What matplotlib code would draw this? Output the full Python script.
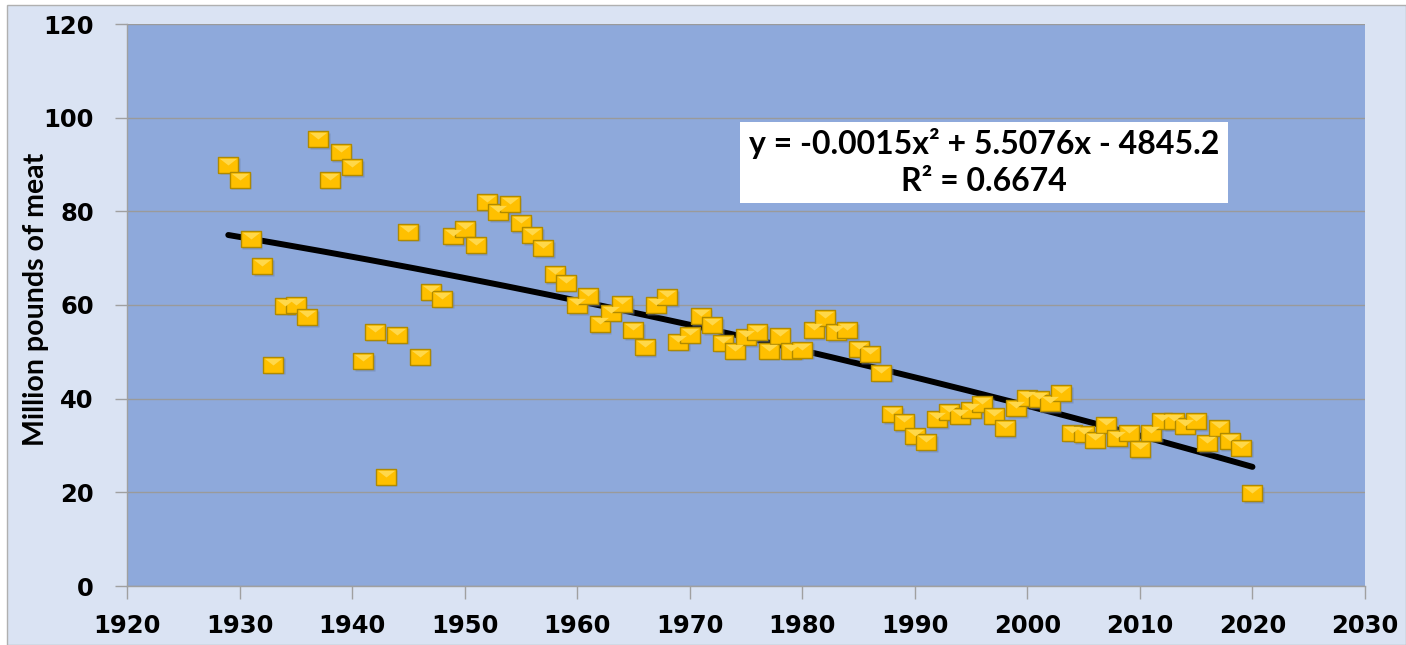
import numpy as np
import matplotlib
matplotlib.use("Agg")
import matplotlib.pyplot as plt
from matplotlib.patches import Rectangle

years = list(range(1929, 2021))
meat = [90.0, 86.7, 74.0, 68.3, 47.2, 59.8, 60.0, 57.4, 95.4, 86.7,
        92.6, 89.4, 48.0, 54.3, 23.3, 53.7, 75.6, 49.0, 62.8, 61.3,
        74.7, 76.2, 72.8, 82.0, 79.8, 81.5, 77.5, 74.9, 72.1, 66.6,
        64.7, 60.0, 61.9, 55.9, 58.3, 60.2, 54.6, 51.0, 60.0, 61.7,
        52.1, 53.6, 57.6, 55.7, 51.9, 50.2, 53.1, 54.2, 50.2, 53.4,
        50.2, 50.4, 54.6, 57.2, 54.2, 54.6, 50.6, 49.5, 45.5, 36.7,
        35.0, 32.0, 30.7, 35.6, 37.1, 36.3, 37.6, 38.8, 36.3, 33.7,
        38.0, 40.1, 39.9, 39.0, 41.2, 32.7, 32.4, 31.2, 34.4, 31.6,
        32.7, 29.2, 32.7, 35.2, 35.2, 34.2, 35.2, 30.5, 33.7, 30.9,
        29.5, 19.8]
x_ticks = [1920, 1930, 1940, 1950, 1960, 1970, 1980, 1990, 2000, 2010, 2020, 2030]
y_ticks = [0, 20, 40, 60, 80, 100, 120]
y_label = "Million pounds of meat"
eq_text = "y = -0.0015x\u00b2 + 5.5076x - 4845.2\nR\u00b2 = 0.6674"

W, H = 1406, 645
fig = plt.figure(figsize=(W / 100, H / 100), dpi=100, facecolor="white")
bg = Rectangle((7 / W, 0), 1 - 7 / W, 1 - 5 / H, transform=fig.transFigure,
               facecolor="#DAE3F3", edgecolor="#B0B0B0", linewidth=1, zorder=-5)
fig.add_artist(bg)

ax = fig.add_axes([127 / W, 1 - 586 / H, (1365 - 127) / W, (586 - 24) / H])
ax.set_zorder(1)
ax.set_facecolor("#8EA9DB")
ax.set_xlim(1920, 2030)
ax.set_ylim(0, 120)
ax.set_xticks(x_ticks)
ax.set_yticks(y_ticks)
ax.grid(axis="y", color="#9A9A9A", linewidth=1.0)
ax.set_axisbelow(True)
for s in ["top", "right"]:
    ax.spines[s].set_visible(False)
for s in ["left", "bottom"]:
    ax.spines[s].set_color("#A0A0A0")
    ax.spines[s].set_linewidth(1.0)
ax.tick_params(axis="both", direction="out", length=9, color="#A0A0A0", width=1.0)
ax.tick_params(axis="x", pad=11)
ax.tick_params(axis="y", pad=15)
for lab in ax.get_xticklabels() + ax.get_yticklabels():
    lab.set_fontfamily("DejaVu Sans")
    lab.set_fontweight("bold")
    lab.set_fontsize(17.5)

ax.set_ylabel(y_label, fontfamily="Lato", fontweight="bold", fontsize=20.5, va="center")
ax.yaxis.set_label_coords(-0.0735, 0.51)

# trendline: polynomial order 2 fitted to the data
coef = np.polyfit(years, meat, 2)
xs = np.linspace(min(years), max(years), 200)
ax.plot(xs, np.polyval(coef, xs), color="black", linewidth=4.3, solid_capstyle="round", zorder=3)

rect = [(-1, -0.78), (1, -0.78), (1, 0.78), (-1, 0.78), (-1, -0.78)]
tri_top = [(-1, 0.78), (1, 0.78), (0, 0.0), (-1, 0.78)]
ms = 15.0
shadow_tr = ax.transData + matplotlib.transforms.ScaledTranslation(1.5 / 100, -1.5 / 100, fig.dpi_scale_trans)
ax.plot(years, meat, linestyle="none", marker=rect, markersize=ms, markerfacecolor="#6A7FA8",
        markeredgecolor="none", alpha=0.5, zorder=3.5, transform=shadow_tr)
ax.plot(years, meat, linestyle="none", marker=rect, markersize=ms, markerfacecolor="#FFC000",
        markeredgecolor="#B08A00", markeredgewidth=1.0, zorder=4)
ax.plot(years, meat, linestyle="none", marker=tri_top, markersize=ms * 0.82, markerfacecolor="#FFD84A",
        markeredgecolor="none", zorder=4.5)

box = Rectangle((740 / W, 1 - 203 / H), (1228 - 740) / W, (203 - 122) / H, transform=fig.transFigure,
                facecolor="white", edgecolor="none", zorder=5)
fig.add_artist(box)
fig.text(984 / W, 1 - 162 / H, eq_text, ha="center", va="center",
         fontfamily="Lato", fontweight="bold", fontsize=23, linespacing=1.35, zorder=6)

fig.savefig("out.png", dpi=100, facecolor=fig.get_facecolor())
